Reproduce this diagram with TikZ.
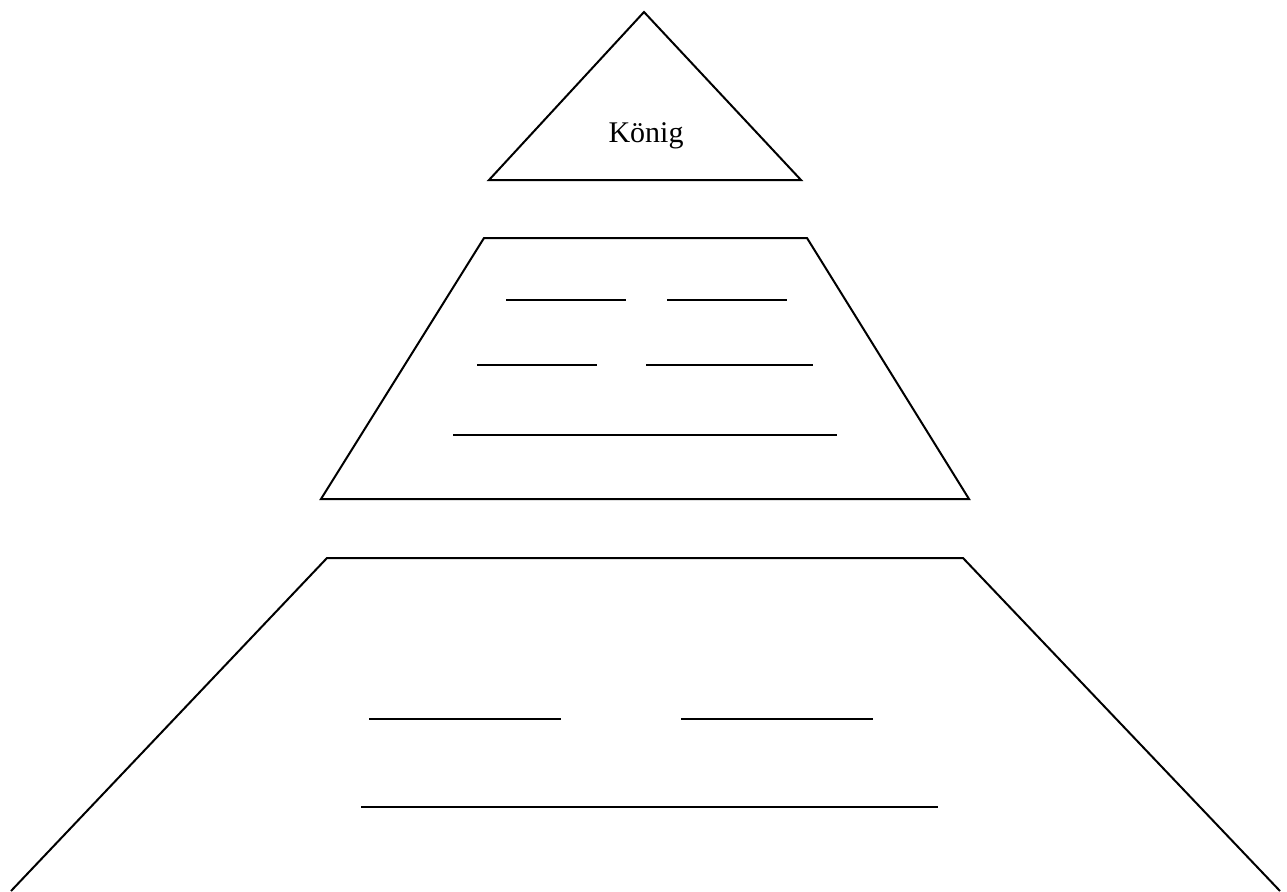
\documentclass[tikz,border=0pt]{standalone}
\usepackage{fontspec}
\setmainfont{Liberation Serif}
\usetikzlibrary{positioning}
\tikzset{
  tier/.style={draw=black,line width=1pt,line join=miter},
  blank/.style={draw=black,line width=1pt},
  lab/.style={font=\fontsize{15}{18}\selectfont,inner sep=0pt},
}
\begin{document}
\begin{tikzpicture}[x=0.5pt,y=-0.5pt]
\useasboundingbox (0,0) rectangle (1287,891);
% top: king
\coordinate (apex) at (644,12);
\coordinate (tl) at (489,180);
\coordinate (tr) at (801,180);
\draw[tier] (apex) -- (tr) -- (tl) -- cycle;
\node[lab] (koenig) at (646,136) {König};
% middle tier
\coordinate (m1) at (484,238);
\coordinate (m2) at (807,238);
\coordinate (m3) at (969,499);
\coordinate (m4) at (321,499);
\draw[tier] (m1) -- (m2) -- (m3) -- (m4) -- cycle;
\foreach \y/\a/\b in {300/506/626,300/667/787,365/477/597,365/646/813,435/453/837}{
  \draw[blank] (\a,\y) -- (\b,\y);}
% bottom tier, open at the foot
\coordinate (b1) at (327,558);
\coordinate (b2) at (963,558);
\coordinate (b3) at (1280,891);
\coordinate (b4) at (11,891);
\draw[tier] (b4) -- (b1) -- (b2) -- (b3);
\foreach \y/\a/\b in {719/369/561,719/681/873,807/361/938}{
  \draw[blank] (\a,\y) -- (\b,\y);}
\end{tikzpicture}
\end{document}
